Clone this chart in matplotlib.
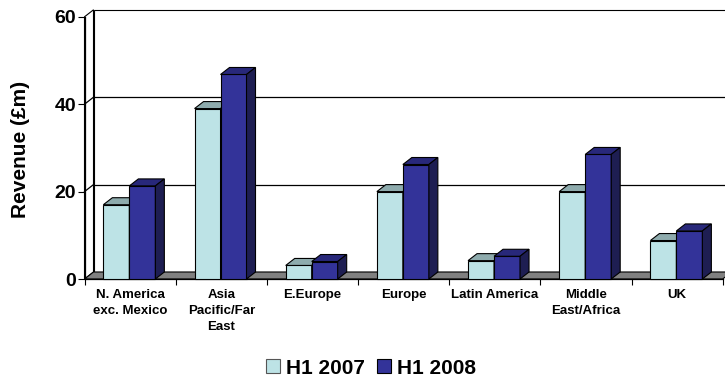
import numpy as np
import matplotlib
matplotlib.use('Agg')
import matplotlib.pyplot as plt
from matplotlib.patches import Polygon, Patch

plt.rcParams['font.family'] = ['Liberation Sans', 'DejaVu Sans']
plt.rcParams['font.weight'] = 'bold'

regions = ['N. America\nexc. Mexico', 'Asia\nPacific/Far\nEast', 'E.Europe', 'Europe',
           'Latin America', 'Middle\nEast/Africa', 'UK']
h1_2007 = [17.0, 39.0, 3.1, 20.0, 4.2, 20.0, 8.8]
h1_2008 = [21.3, 46.8, 4.0, 26.2, 5.2, 28.5, 11.0]
y_ticks = [0, 20, 40, 60]

light_front, light_top = '#BDE3E6', '#8EABAD'
dark_front, dark_top, dark_side = '#333399', '#28287A', '#1E1E52'
floor_color = '#808080'

W, H = 725, 379
fig = plt.figure(figsize=(W / 100, H / 100), dpi=100)
ax = fig.add_axes([84.5 / W, (H - 279) / H, (722.7 - 84.5) / W, (279 - 16.8) / H])
n = len(regions)
ax.set_xlim(0, n)
ax.set_ylim(0, 60)
for s in ax.spines.values():
    s.set_visible(False)
ax.patch.set_visible(False)

# depth of the 3d box, given in pixels and turned into data units
px_x = (722.7 - 84.5) / n
px_y = (279 - 16.8) / 60
dx, dy = 9 / px_x, 7 / px_y

def poly(pts, fc, z, lw=0.8, ec='black'):
    ax.add_patch(Polygon(pts, closed=True, facecolor=fc, edgecolor=ec, lw=lw,
                         zorder=z, clip_on=False, joinstyle='miter'))

# back wall, side wall and floor
poly([(dx, dy), (n + dx, dy), (n + dx, 60 + dy), (dx, 60 + dy)], 'white', 1)
poly([(0, 0), (dx, dy), (dx, 60 + dy), (0, 60)], 'white', 1.2)
for t in y_ticks[1:-1]:
    ax.plot([dx, n + dx], [t + dy, t + dy], color='black', lw=0.9, zorder=1.5, clip_on=False)
    ax.plot([0, dx], [t, t + dy], color='black', lw=0.9, zorder=1.5, clip_on=False)
poly([(0, 0), (n, 0), (n + dx, dy), (dx, dy)], floor_color, 2)

# 3d columns: front face from bar(), top and side faces added as polygons
bw = 0.285
x = np.arange(n) + 0.5 - 0.008
for vals, off, front, top, side, z in [(h1_2007, -bw / 2, light_front, light_top, light_top, 3),
                                       (h1_2008, bw / 2, dark_front, dark_top, dark_side, 4)]:
    bars = ax.bar(x + off, vals, width=bw, color=front, edgecolor='black', lw=0.8,
                  zorder=z, clip_on=False)
    for b in bars:
        x0, x1, h = b.get_x(), b.get_x() + b.get_width(), b.get_height()
        poly([(x0, h), (x1, h), (x1 + dx, h + dy), (x0 + dx, h + dy)], top, z)
        poly([(x1, 0), (x1 + dx, dy), (x1 + dx, h + dy), (x1, h)], side, z)

ax.plot([0, n], [0, 0], color='black', lw=0.9, zorder=2.5, clip_on=False)
ax.plot([0, 0], [0, 60], color='black', lw=0.9, zorder=2.5, clip_on=False)

ax.set_yticks(y_ticks)
ax.tick_params(axis='y', length=5, width=0.8, pad=1, labelsize=14)
ax.set_xticks(np.arange(n + 1))
ax.set_xticklabels([])
ax.tick_params(axis='x', which='major', length=4, width=0.8)
ax.set_xticks(np.arange(n) + 0.5, minor=True)
ax.set_xticklabels(regions, minor=True, fontsize=9.5, linespacing=1.4)
ax.tick_params(axis='x', which='minor', length=0, pad=7.5)

ax.set_ylabel('Revenue (£m)', fontsize=15, fontweight='bold')
ax.yaxis.set_label_coords(30 / W, 0.5, transform=fig.transFigure)
ax.yaxis.label.set_y((H - 149) / H)

handles = [Patch(facecolor=light_front, edgecolor='#555555', lw=0.8),
           Patch(facecolor=dark_front, edgecolor='black', lw=0.8)]
fig.legend(handles, ['H1 2007', 'H1 2008'], loc='center', bbox_to_anchor=(0.512, 0.029),
           ncol=2, frameon=False, fontsize=15, handlelength=0.65, handleheight=0.65,
           handletextpad=0.3, columnspacing=0.6, borderpad=0)

fig.savefig('out.png', dpi=100)
